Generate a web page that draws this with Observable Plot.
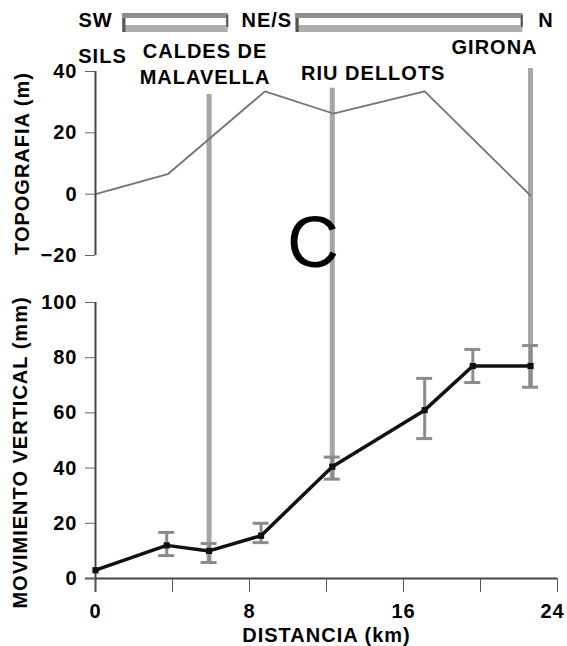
<!DOCTYPE html>
<html>
<head>
<meta charset="utf-8">
<script src="https://cdn.jsdelivr.net/npm/d3@7"></script>
<script src="https://cdn.jsdelivr.net/npm/@observablehq/plot@0.6"></script>
<style>
  html, body { margin: 0; padding: 0; background: #fff; }
  #chart { position: relative; width: 567px; height: 646px; overflow: hidden; background: #fff; }
  #chart svg { position: absolute; left: 0; top: 0; }
</style>
</head>
<body>
<div id="chart"></div>
<script>
// ---- Data ----
// Bottom panel: vertical movement (mm) along the profile
const distanceKm = [0, 3.7, 5.9, 8.6, 12.3, 17.1, 19.6, 22.6];
const movementMm = [3, 12, 10, 15.5, 40.5, 61, 77, 77];
const errorLow   = [null, 8.3, 5.8, 13, 36, 50.7, 71, 69.3];
const errorHigh  = [null, 16.7, 12.7, 20, 44, 72.5, 83, 84.4];

// Top panel: topography (m)
const topoKm = [0, 3.75, 8.8, 12.35, 17.1, 22.6];
const topoM  = [0, 6.5, 33.5, 26.3, 33.5, -0.5];

// Localities along the profile
const placeNames = ["SILS", "CALDES DE\nMALAVELLA", "RIU DELLOTS", "GIRONA"];
const placeKm = [0, 5.9, 12.3, 22.6];
const placeLineTopM = [null, 32.5, 34.5, 41];     // top of locality line (topography units)
const placeLineBottomMm = [null, 5.8, 36, 69.3];  // bottom of locality line (movement units)

// Profile orientation strip
const directionLabels = ["SW", "NE/S", "N"];
const directionKm = [0, 8.9, 23.4];
const sectionStartKm = [1.4, 10.4];
const sectionEndKm = [6.9, 22.2];

// Axes
const xDomain = [0, 24];
const xTickValues = [0, 4, 8, 12, 16, 20, 24];
const xTickLabels = [0, 8, 16, 24];
const topoDomain = [-20, 40];
const topoTicks = [-20, 0, 20, 40];
const moveDomain = [0, 100];
const moveTicks = [0, 20, 40, 60, 80, 100];

// ---- Build tables ----
const places = placeNames.map((name, i) => ({name, km: placeKm[i], top: placeLineTopM[i], bottom: placeLineBottomMm[i]}));
const marked = places.filter(d => d.top != null);
const topo = topoKm.map((km, i) => ({km, m: topoM[i]}));
const pts = distanceKm.map((km, i) => ({km, mm: movementMm[i], lo: errorLow[i], hi: errorHigh[i]}));
const errs = pts.filter(d => d.lo != null);
const sections = sectionStartKm.map((s, i) => ({x1: s, x2: sectionEndKm[i]}));
const dirs = directionLabels.map((t, i) => ({t, km: directionKm[i]}));
const lastTick = xTickLabels[xTickLabels.length - 1];
const innerTickLabels = xTickLabels.slice(0, -1);

const W = 567, H = 646;
const font = '"Liberation Sans", Arial, Helvetica, sans-serif';
const baseStyle = {
  fontFamily: font, fontSize: "20px", fontWeight: "bold", letterSpacing: "1px",
  background: "transparent", overflow: "visible", color: "#000"
};
const lineGrey = "#a6a6a6";

const topPlot = Plot.plot({
  width: W, height: H,
  marginTop: 71, marginBottom: 391, marginLeft: 95, marginRight: 10,
  x: {domain: xDomain, axis: null},
  y: {domain: topoDomain, axis: null},
  style: baseStyle,
  marks: [
    // orientation strip
    Plot.rect(sections, {x1: "x1", x2: "x2", insetTop: -58, insetBottom: 223, fill: "#adadad"}),
    Plot.rect(sections, {x1: "x1", x2: "x2", insetTop: -58, insetBottom: 237, fill: "#8e8e8e"}),
    Plot.rect(sections, {x1: "x1", x2: "x2", insetTop: -53, insetBottom: 230, insetLeft: 3, insetRight: 2, fill: "#fff"}),
    Plot.ruleX(sections, {x: "x1", insetTop: -53, insetBottom: 223, stroke: "#555", strokeWidth: 3, dx: 1.5}),
    Plot.ruleX(sections, {x: "x2", insetTop: -56, insetBottom: 228, stroke: "#555", strokeWidth: 2, dx: -1}),
    Plot.text(dirs, {x: "km", text: "t", frameAnchor: "top", dy: -51, lineAnchor: "middle", textAnchor: "middle"}),
    // locality lines
    Plot.ruleX(marked, {x: "km", y1: "top", y2: () => topoDomain[0], insetBottom: -47, stroke: lineGrey, strokeWidth: 5}),
    // topography
    Plot.line(topo, {x: "km", y: "m", stroke: "#737373", strokeWidth: 1.8}),
    // axis
    Plot.ruleX([0], {stroke: "#444", strokeWidth: 2}),
    Plot.axisY({ticks: topoTicks, tickSize: 10, tickPadding: 8, stroke: "#666", label: null}),
    Plot.text(["TOPOGRAFIA (m)"], {frameAnchor: "left", rotate: -90, dx: -73, textAnchor: "middle", lineAnchor: "middle", letterSpacing: "1.5px"}),
    // locality labels
    Plot.text([places[0]], {x: "km", text: "name", frameAnchor: "top", dx: 7, dy: -15, lineAnchor: "middle", textAnchor: "middle"}),
    Plot.text([places[1]], {x: "km", text: "name", frameAnchor: "top", dx: -4, dy: -9, lineAnchor: "middle", textAnchor: "middle", lineHeight: 1.3}),
    Plot.text([places[2]], {x: "km", text: "name", frameAnchor: "top", dx: 41, dy: 2, lineAnchor: "middle", textAnchor: "middle"}),
    Plot.text([places[3]], {x: "km", text: "name", frameAnchor: "top", dx: -36, dy: -24, lineAnchor: "middle", textAnchor: "middle", letterSpacing: "2px"}),
    // panel letter
    Plot.text(["C"], {frameAnchor: "top-left", dx: 218, dy: 172, fontSize: 72, fontWeight: "normal", textAnchor: "middle", lineAnchor: "middle"})
  ]
});

const botPlot = Plot.plot({
  width: W, height: H,
  marginTop: 302, marginBottom: 68, marginLeft: 95, marginRight: 10,
  x: {domain: xDomain, axis: null},
  y: {domain: moveDomain, axis: null},
  style: baseStyle,
  marks: [
    Plot.ruleX(marked, {x: "km", y1: () => moveDomain[1], y2: "bottom", stroke: lineGrey, strokeWidth: 5}),
    Plot.ruleX(errs, {x: "km", y1: "hi", y2: "lo", stroke: "#8c8c8c", strokeWidth: 3}),
    Plot.ruleY(errs, {x1: "km", x2: "km", y: "hi", insetLeft: -8, insetRight: -8, stroke: "#8c8c8c", strokeWidth: 3}),
    Plot.ruleY(errs, {x1: "km", x2: "km", y: "lo", insetLeft: -8, insetRight: -8, stroke: "#8c8c8c", strokeWidth: 3}),
    Plot.ruleY([0], {insetLeft: -10, stroke: "#444", strokeWidth: 2}),
    Plot.ruleX([0], {insetBottom: -14, stroke: "#444", strokeWidth: 2}),
    Plot.line(pts, {x: "km", y: "mm", stroke: "#111", strokeWidth: 3.5}),
    Plot.dot(pts, {x: "km", y: "mm", symbol: "square", fill: "#111", r: 3.5}),
    Plot.axisY({ticks: moveTicks, tickSize: 10, tickPadding: 8, stroke: "#666", label: null}),
    Plot.axisX({ticks: xTickValues, tickSize: 14, tickPadding: 11, stroke: "#555", label: null,
      tickFormat: d => innerTickLabels.includes(d) ? String(d) : ""}),
    Plot.text([lastTick], {x: d => d, text: d => String(d), frameAnchor: "bottom", dy: 25, dx: -5, lineAnchor: "top", textAnchor: "middle"}),
    Plot.text(["MOVIMIENTO VERTICAL (mm)"], {frameAnchor: "left", rotate: -90, dx: -75, dy: 12, textAnchor: "middle", lineAnchor: "middle", letterSpacing: "2px"}),
    Plot.text(["DISTANCIA (km)"], {frameAnchor: "bottom", dy: 57, textAnchor: "middle", lineAnchor: "middle", letterSpacing: "1.5px"})
  ]
});

const chart = document.getElementById("chart");
chart.appendChild(topPlot);
chart.appendChild(botPlot);
</script>
</body>
</html>
